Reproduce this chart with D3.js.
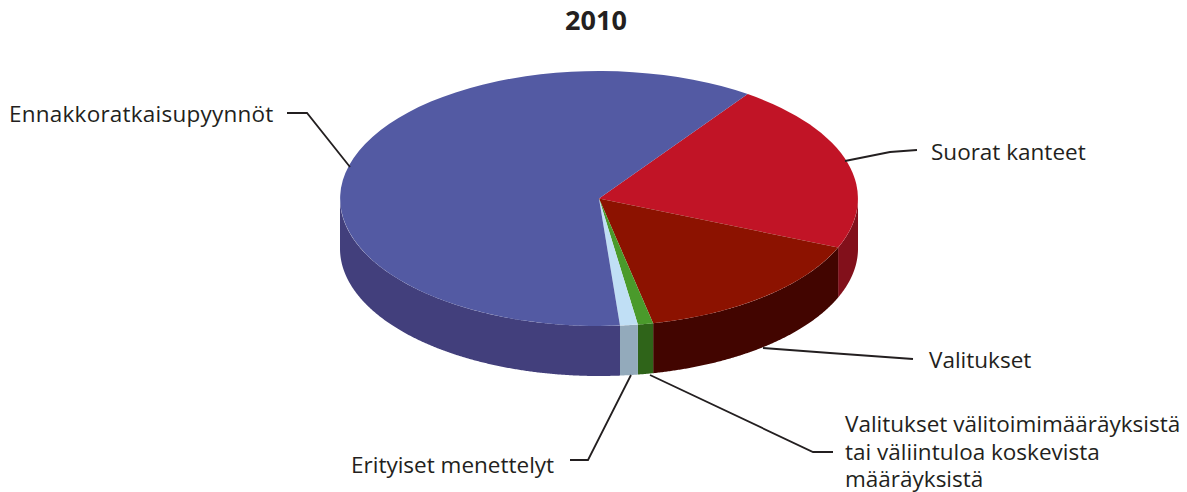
<!DOCTYPE html>
<html lang="fi">

<head>
  <meta charset="utf-8">
  <title>2010</title>
  <script src="https://d3js.org/d3.v7.min.js"></script>
  <style>
    html, body { margin: 0; padding: 0; background: #fff; }
    svg { display: block; }
    text { font-family: "Open Sans", "Noto Sans", sans-serif; fill: #231f20; }
  </style>
</head>

<body>
  <div id="chart"></div>

  <script type="text/javascript">
    "use strict"

    // data
    var otsikko = "2010";
    var arvot = [136, 97, 6, 7, 385];
    var nimet = [
      ["Suorat kanteet"],
      ["Valitukset"],
      ["Valitukset välitoimimääräyksistä", "tai väliintuloa koskevista", "määräyksistä"],
      ["Erityiset menettelyt"],
      ["Ennakkoratkaisupyynnöt"]
    ];
    var varit = ["#c11426", "#8c1200", "#4a9a2b", "#c0dff5", "#535aa3"];
    var sivuvarit = ["#82101b", "#420500", "#2f6419", "#93aabb", "#423f7c"];

    // layout
    var leveys = 1187, korkeus = 492;
    var kx = 599, ky = 198.5, rx = 259, ry = 127.5, syvyys = 50;
    var alku = 35 * Math.PI / 180;

    // label position + leader line for each slice, same order as arvot
    var sijainnit = [
      { x: 931, y: 160, viiva: [[845, 161], [890, 152], [917, 150]] },
      { x: 929, y: 368, viiva: [[763, 348], [830, 353], [913, 359]] },
      { x: 845, y: 432, viiva: [[650, 375], [813, 452], [833, 452]] },
      { x: 351, y: 473, viiva: [[631, 375], [588, 460], [570, 460]] },
      { x: 9, y: 122, vali: 0.23, viiva: [[350, 167], [307, 113], [287, 113]] }
    ];

    var svg = d3.select("#chart").append("svg")
      .attr("width", leveys)
      .attr("height", korkeus);

    var pie = d3.pie().sort(null)
      .startAngle(alku)
      .endAngle(alku + 2 * Math.PI);
    var sektorit = pie(arvot);

    var sx = d3.scaleLinear().domain([-1, 1]).range([kx - rx, kx + rx]);
    var sy = d3.scaleLinear().domain([-1, 1]).range([ky - ry, ky + ry]);

    // side walls, only the front half of the disc is visible
    function seina(d) {
      var a = Math.max(d.startAngle, Math.PI / 2);
      var b = Math.min(d.endAngle, 3 * Math.PI / 2);
      if (b <= a) return null;
      var kulmat = d3.range(a, b, 0.005).concat([b]);
      var yla = kulmat.map(t => [sx(Math.sin(t)), sy(-Math.cos(t))]);
      var ala = yla.map(p => [p[0], p[1] + syvyys]).reverse();
      return d3.line()(yla.concat(ala)) + "Z";
    }

    svg.append("g").selectAll("path")
      .data(sektorit)
      .enter()
      .append("path")
        .attr("d", seina)
        .attr("fill", (d, i) => sivuvarit[i]);

    // top of the disc: unit arc squashed into an ellipse
    var arc = d3.arc().innerRadius(0).outerRadius(1);

    svg.append("g")
        .attr("transform", "translate(" + kx + "," + ky + ") scale(" + rx + "," + ry + ")")
      .selectAll("path")
      .data(sektorit)
      .enter()
      .append("path")
        .attr("d", arc)
        .attr("fill", (d, i) => varit[i]);

    // leader lines
    svg.append("g").selectAll("path")
      .data(sijainnit)
      .enter()
      .append("path")
        .attr("d", d => d3.line()(d.viiva))
        .attr("fill", "none")
        .attr("stroke", "#231f20")
        .attr("stroke-width", 1.8);

    // labels
    svg.append("g").selectAll("text")
      .data(nimet)
      .enter()
      .append("text")
        .attr("font-size", 22.5)
        .attr("letter-spacing", (d, i) => sijainnit[i].vali || 0)
        .attr("y", (d, i) => sijainnit[i].y)
        .each(function (rivit, i) {
          d3.select(this).selectAll("tspan")
            .data(rivit)
            .enter()
            .append("tspan")
              .attr("x", sijainnit[i].x)
              .attr("dy", (r, j) => j ? 27.5 : 0)
              .text(r => r);
        });

    svg.append("text")
      .attr("x", 596)
      .attr("y", 30)
      .attr("text-anchor", "middle")
      .attr("font-size", 27)
      .attr("font-weight", "bold")
      .text(otsikko);
  </script>
</body>

</html>
